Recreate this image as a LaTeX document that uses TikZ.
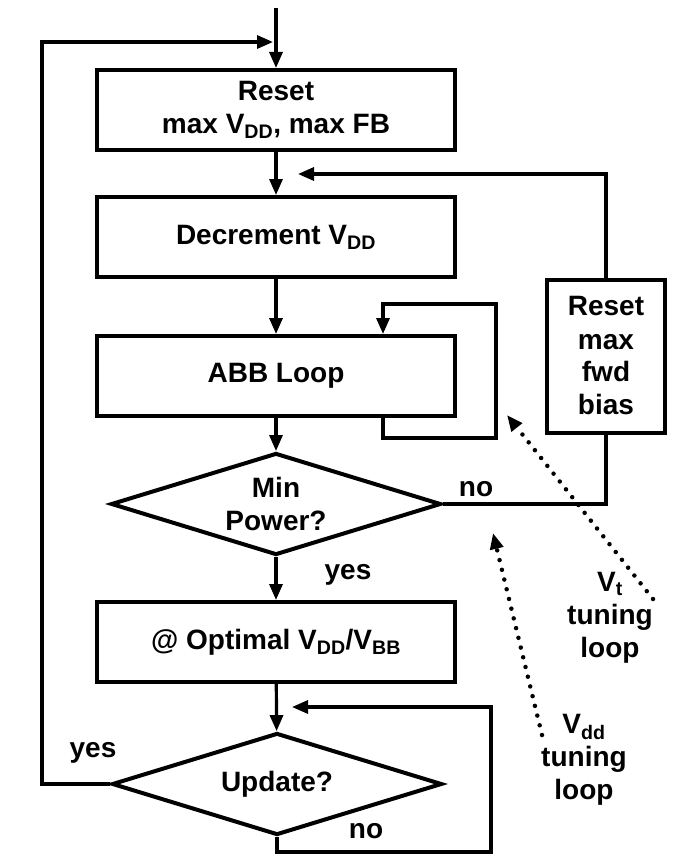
\documentclass[tikz,border=0pt]{standalone}
\usepackage{fontspec}
\setmainfont{Liberation Sans}
\usetikzlibrary{arrows.meta,shapes.geometric}
\tikzstyle{blk} = [rectangle, draw, line width=4pt, minimum width=358pt,
    minimum height=80pt, align=center]
\tikzstyle{dec} = [diamond, draw, line width=4pt, aspect=3.3, inner sep=0pt,
    minimum width=330pt, minimum height=102pt, align=center]
\tikzstyle{lbl} = [align=center, inner sep=0pt]
\tikzstyle{tune} = [dash pattern=on 0pt off 10pt, line cap=round, line width=4.5pt]

\begin{document}
\begin{tikzpicture}[x=1pt,y=-1pt,->,>={Triangle[length=16pt,width=13pt]},line width=3.2pt,
                    every node/.style={font=\bfseries\fontsize{28}{33}\selectfont}]
  \useasboundingbox (0,0) rectangle (677,867);
  \node[blk] (rst)  at (276,110) {Reset\\max V\textsubscript{DD}, max FB};
  \node[blk] (decr) at (276,237) {Decrement V\textsubscript{DD}};
  \node[blk] (abb)  at (276,376) {ABB Loop};
  \node[dec] (minp) at (276,504) {Min\\Power?};
  \node[blk] (opt)  at (276,642) {@ Optimal V\textsubscript{DD}/V\textsubscript{BB}};
  \node[dec] (upd)  at (277,784) {Update?};
  \node[blk, minimum width=118pt, minimum height=153pt] (fwd) at (606,356)
        {Reset\\max\\fwd\\bias};

  \node (no1)  at (476,489) {no};
  \node (yes1) at (348,575) {yes};
  \node (yes2) at (93,753)  {yes};
  \node (no2)  at (366,831) {no};
  \node[lbl] (vt)  at (610,618) {V\textsubscript{t}\\tuning\\loop};
  \node[lbl] (vdd) at (584,760) {V\textsubscript{dd}\\tuning\\loop};

  % main flow
  \coordinate (in) at (276,8);
  \draw (in) -- (rst);
  \draw (rst) -- (decr);
  \draw (decr) -- (abb);
  \draw (abb) -- (minp);
  \draw (minp) -- (opt);
  \draw (opt) -- (upd);

  % outer loop back to the start
  \coordinate (lft) at (42,42);
  \coordinate (top) at (273,42);
  \draw (upd.west) -| (lft) -- (top);

  % Vt loop
  \coordinate (j1) at (298,174);
  \draw[-] (minp.east) -| (fwd.south);
  \draw (fwd.north) |- (j1);

  % ABB self loop
  \coordinate (abbx) at (383,0);
  \coordinate (ab1) at (496,438);
  \coordinate (ab2) at (383,304);
  \draw (abb.south -| abbx) |- (ab1) |- (ab2) -- (abb.north -| abbx);

  % update loop
  \coordinate (u1) at (491,852);
  \coordinate (u2) at (292,707);
  \draw (upd.south) |- (u1) |- (u2);

  % tuning loop pointers
  \coordinate (vt0) at (653,599);
  \coordinate (vt1) at (507,415);
  \coordinate (vd0) at (542,735);
  \coordinate (vd1) at (493,533);
  \draw[tune] (vt0) -- (vt1);
  \draw[tune] (vd0) -- (vd1);
\end{tikzpicture}
\end{document}
